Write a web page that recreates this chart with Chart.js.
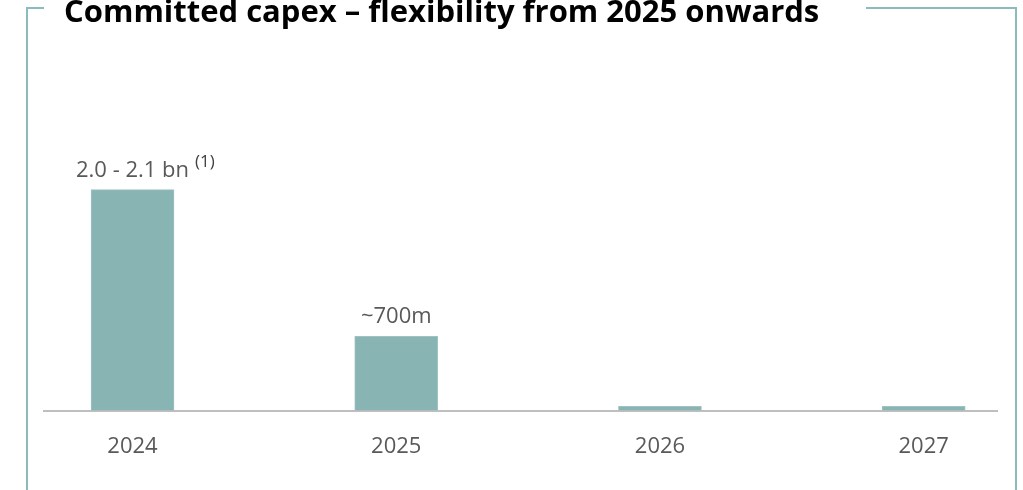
<!DOCTYPE html>
<html><head><meta charset="utf-8">
<script src="https://cdn.jsdelivr.net/npm/chart.js@4.4.1/dist/chart.umd.min.js"></script>
<style>
html,body{margin:0;padding:0;background:#fff;overflow:hidden;width:1023px;height:490px}
#wrap{position:relative;width:1023px;height:490px;overflow:hidden}
#frame{position:absolute;left:26px;top:7px;width:987px;height:520px;border:2px solid #8abcbc;border-bottom:none}
#title{position:absolute;left:44px;top:-7px;width:822px;height:34px;line-height:34px;background:#fff;font-family:"Open Sans",sans-serif;font-weight:bold;font-size:31px;color:#000;padding-left:20px;box-sizing:border-box;white-space:nowrap;z-index:2}
#chart{position:absolute;left:0;top:0;z-index:1}
</style></head>
<body><div id="wrap">
<div id="frame"></div>
<canvas id="chart" width="1023" height="490"></canvas>
<div id="title">Committed capex – flexibility from 2025 onwards</div>
</div>
<script>
const categories = ['2024', '2025', '2026', '2027'];
const capexValues = [2080, 700, 40, 40];
const valueLabels = ['2.0 - 2.1 bn', '~700m', '', ''];
const labelNotes = ['(1)', '', '', ''];

const labelPlugin = {
  id: 'barLabels',
  afterDatasetsDraw(chart) {
    const ctx = chart.ctx;
    const meta = chart.getDatasetMeta(0);
    meta.data.forEach((bar, i) => {
      const t = valueLabels[i];
      if (!t) return;
      ctx.save();
      ctx.font = '22px "Open Sans"';
      ctx.fillStyle = '#595959';
      ctx.textAlign = 'center';
      ctx.textBaseline = 'alphabetic';
      const y = bar.y - 13;
      ctx.fillText(t, bar.x, y);
      if (labelNotes[i]) {
        const w = ctx.measureText(t).width;
        ctx.font = '17px "Open Sans"';
        ctx.fillStyle = '#404040';
        ctx.textAlign = 'left';
        ctx.fillText(labelNotes[i], bar.x + w / 2 + 6, y - 10);
      }
      ctx.restore();
    });
  }
};

new Chart(document.getElementById('chart'), {
  type: 'bar',
  data: {
    datasets: [{
      data: categories.map((c, i) => ({ x: i, y: capexValues[i] })),
      backgroundColor: '#88b4b4',
      borderColor: '#a0c2c2',
      borderWidth: 1,
      barThickness: 83
    }]
  },
  options: {
    responsive: false,
    animation: false,
    layout: { padding: { left: 44, right: 26, top: 60, bottom: 15 } },
    plugins: { legend: { display: false }, tooltip: { enabled: false }, title: { display: false } },
    scales: {
      x: {
        type: 'linear',
        offset: false,
        min: -0.3356,
        max: 3.278,
        afterBuildTicks(axis) { axis.ticks = categories.map((c, i) => ({ value: i })); },
        ticks: {
          autoSkip: false, maxRotation: 0, padding: 15,
          callback: (v) => categories[v],
          font: { family: 'Open Sans', size: 22 },
          color: '#595959'
        },
        grid: { display: false, offset: false },
        border: { display: true, color: '#bfbfbf', width: 2 }
      },
      y: { display: false, min: 0, max: 3300 }
    }
  },
  plugins: [labelPlugin]
});
</script>
</body></html>
